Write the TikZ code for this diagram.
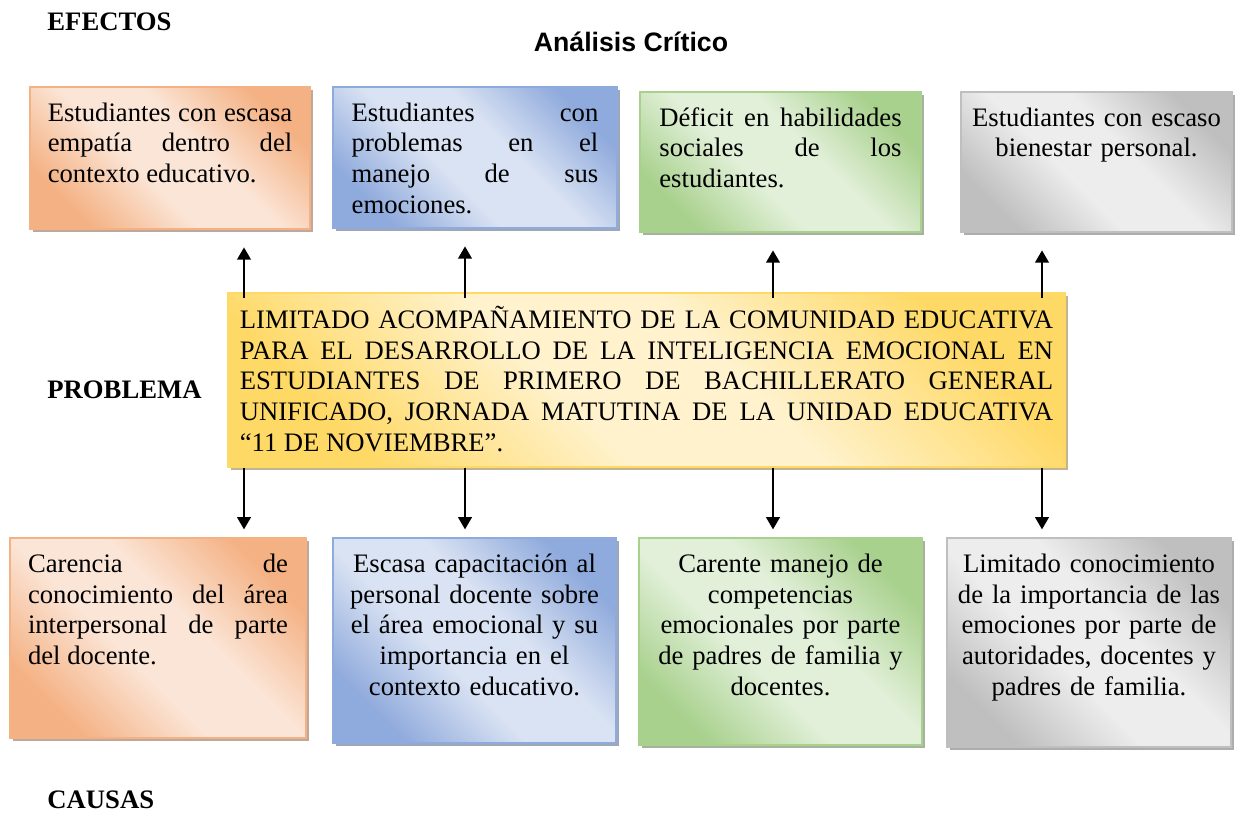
\documentclass[tikz,border=0pt]{standalone}
\usepackage{fontspec}
\setmainfont{Liberation Serif}
\newfontfamily\arialfont{Liberation Sans}
\usepackage{tikz}
\usetikzlibrary{positioning,fit,shadows,arrows.meta}
\definecolor{orD}{HTML}{F4B183}
\definecolor{orL}{HTML}{FBE5D6}
\definecolor{blD}{HTML}{8FAADC}
\definecolor{blL}{HTML}{DAE3F3}
\definecolor{grD}{HTML}{A9D18E}
\definecolor{grL}{HTML}{E2F0D9}
\definecolor{gyD}{HTML}{BFBFBF}
\definecolor{gyL}{HTML}{EDEDED}
\definecolor{yeD}{HTML}{FFD966}
\definecolor{yeL}{HTML}{FFF2CC}
\colorlet{boxD}{orD}
\colorlet{boxL}{orL}
\pgfdeclareverticalshading[boxD,boxL]{boxshade}{100bp}{%
  color(0bp)=(boxD); color(25bp)=(boxD); color(43bp)=(boxL);
  color(57bp)=(boxL); color(75bp)=(boxD); color(100bp)=(boxD)}

\begin{document}
\begin{tikzpicture}[
  x = 0.45pt,
  y = -0.45pt,
  box/.style = {
    /utils/exec = {\colorlet{boxD}{#1D}\colorlet{boxL}{#1L}},
    draw = #1D,
    line width = 0.5pt,
    inner sep = 0pt,
    shading = boxshade,
    shading angle = -45,
    drop shadow = {shadow xshift=1.4pt, shadow yshift=-1.4pt, fill=#1D!55!black, opacity=.55},
  },
  txt/.style = {
    inner sep = 0pt,
    font = \fontsize{12}{13.8}\selectfont,
    execute at begin node = {\parindent0pt\tolerance9999\hbadness10000\rule{0pt}{12pt}},
  },
  lbl/.style = {
    inner sep = 0pt,
    font = \fontsize{12}{13.8}\selectfont\bfseries,
  },
  >={Triangle[width=6pt,length=5.5pt]},
]
  \useasboundingbox (0,0) rectangle (1235,825);

  \node[lbl,anchor=west] (efe) at (47,22) {EFECTOS};
  \node[lbl,font=\fontsize{12}{13.8}\selectfont\arialfont\bfseries] (ana) at (631,42) {Análisis Crítico};
  \node[lbl,anchor=west] (prob) at (47,390) {PROBLEMA};
  \node[lbl,anchor=west] (cau) at (47,800) {CAUSAS};

  % efectos
  \node[box=or,fit={(30,87) (310,229)}] (e1) {};
  \node[txt,text width=110pt,align=justify] (te1) [below=3.5pt of e1.north]
    {Estudiantes con escasa\linebreak empatía dentro del\linebreak contexto educativo.};
  \node[box=bl,fit={(333,87) (617,228)}] (e2) {};
  \node[txt,text width=111pt,align=justify] (te2) [below=3.5pt of e2.north]
    {Estudiantes con\linebreak problemas en el\linebreak manejo de sus\linebreak emociones.};
  \node[box=gr,fit={(640,92) (921,232)}] (e3) {};
  \node[txt,text width=109pt,align=justify] (te3) [below=3.5pt of e3.north]
    {Déficit en habilidades\linebreak sociales de los\linebreak estudiantes.};
  \node[box=gy,fit={(961,92) (1232,232)}] (e4) {};
  \node[txt,text width=112pt,align=center] (te4) [below=3.5pt of e4.north]
    {Estudiantes con escaso\\ bienestar personal.};

  % problema
  \node[box=ye,fit={(228,293) (1065,467)}] (pb) {};
  \node[txt,text width=366pt,align=justify] (tpb) [below=4pt of pb.north]
    {LIMITADO ACOMPAÑAMIENTO DE LA COMUNIDAD EDUCATIVA\linebreak
     PARA EL DESARROLLO DE LA INTELIGENCIA EMOCIONAL EN\linebreak
     ESTUDIANTES DE PRIMERO DE BACHILLERATO GENERAL\linebreak
     UNIFICADO, JORNADA MATUTINA DE LA UNIDAD EDUCATIVA\linebreak
     “11 DE NOVIEMBRE”.};

  % causas
  \node[box=or,fit={(10,538) (306,738)}] (c1) {};
  \node[txt,text width=117pt,align=justify] (tc1) [below=3.5pt of c1.north]
    {Carencia de\linebreak conocimiento del área\linebreak interpersonal de parte\linebreak del docente.};
  \node[box=bl,fit={(333,538) (616,743)}] (c2) {};
  \node[txt,text width=120pt,align=center] (tc2) [below=3.5pt of c2.north]
    {Escasa capacitación al\\ personal docente sobre\\ el área emocional y su\\ importancia en el\\ contexto educativo.};
  \node[box=gr,fit={(639,538) (922,745)}] (c3) {};
  \node[txt,text width=120pt,align=center] (tc3) [below=3.5pt of c3.north]
    {Carente manejo de\\ competencias\\ emocionales por parte\\ de padres de familia y\\ docentes.};
  \node[box=gy,fit={(947,538) (1231,747)}] (c4) {};
  \node[txt,text width=122pt,align=center] (tc4) [below=3.5pt of c4.north]
    {Limitado conocimiento\\ de la importancia de las\\ emociones por parte de\\ autoridades, docentes y\\ padres de familia.};

  \coordinate (a1) at (244,0);
  \coordinate (a2) at (465,0);
  \coordinate (a3) at (773,0);
  \coordinate (a4) at (1042,0);

  \path[->,line width=1.2pt,shorten <=-2.7pt,shorten >=8pt] (pb.north -| a1) edge (e1.south -| a1);
  \path[->,line width=1.2pt,shorten <=-2.7pt,shorten >=8pt] (pb.north -| a2) edge (e2.south -| a2);
  \path[->,line width=1.2pt,shorten <=-2.7pt,shorten >=8pt] (pb.north -| a3) edge (e3.south -| a3);
  \path[->,line width=1.2pt,shorten <=-2.7pt,shorten >=8pt] (pb.north -| a4) edge (e4.south -| a4);

  \path[->,line width=1.2pt,shorten >=3.6pt] (pb.south -| a1) edge (c1.north -| a1);
  \path[->,line width=1.2pt,shorten >=3.6pt] (pb.south -| a2) edge (c2.north -| a2);
  \path[->,line width=1.2pt,shorten >=3.6pt] (pb.south -| a3) edge (c3.north -| a3);
  \path[->,line width=1.2pt,shorten >=3.6pt] (pb.south -| a4) edge (c4.north -| a4);
\end{tikzpicture}
\end{document}
